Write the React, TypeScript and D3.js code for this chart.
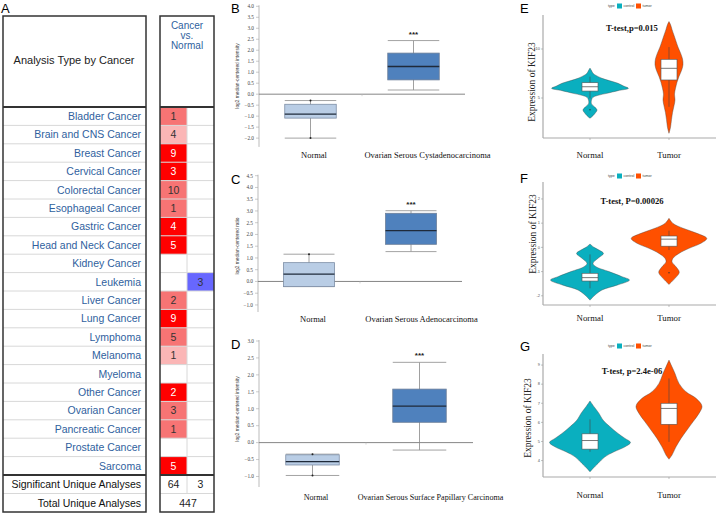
import React from 'react';
import * as d3 from 'd3';

// ---------------- Panel A data ----------------
const cancerTypes = [
  'Bladder Cancer', 'Brain and CNS Cancer', 'Breast Cancer', 'Cervical Cancer',
  'Colorectal Cancer', 'Esophageal Cancer', 'Gastric Cancer', 'Head and Neck Cancer',
  'Kidney Cancer', 'Leukemia', 'Liver Cancer', 'Lung Cancer', 'Lymphoma', 'Melanoma',
  'Myeloma', 'Other Cancer', 'Ovarian Cancer', 'Pancreatic Cancer', 'Prostate Cancer', 'Sarcoma',
];
const upCounts = [1, 4, 9, 3, 10, 1, 4, 5, null, null, 2, 9, 5, 1, null, 2, 3, 1, null, 5];
// shade level of the "up" cell: 1 light, 2 medium, 3 strong
const upShade = [2, 1, 3, 3, 2, 2, 3, 3, 0, 0, 2, 3, 2, 1, 0, 3, 2, 2, 0, 3];
const downCounts = [null, null, null, null, null, null, null, null, null, 3, null, null, null, null, null, null, null, null, null, null];
const headerLines = ['Cancer', 'vs.', 'Normal'];
const summaryLabels = ['Significant Unique Analyses', 'Total Unique Analyses'];
const significantCounts = [64, 3];
const totalAnalyses = 447;

// ---------------- Panels B-D data (min, q1, median, q3, max) ----------------
const boxGroups = ['Normal', 'Tumor'];
const bLabels = ['Normal', 'Ovarian Serous Cystadenocarcinoma'];
const bNormal = [-2.0, -1.09, -0.91, -0.46, -0.29];
const bTumor = [0.19, 0.65, 1.26, 1.87, 2.44];
const bTicks = [-2.0, -1.5, -1.0, -0.5, 0.0, 0.5, 1.0, 1.5, 2.0, 2.5, 3.0, 3.5, 4.0];

const cLabels = ['Normal', 'Ovarian Serous Adenocarcinoma'];
const cNormal = [-0.22, -0.22, 0.31, 0.8, 1.16];
const cTumor = [1.27, 1.58, 2.16, 2.9, 3.01];
const cTicks = [-1.0, -0.5, 0.0, 0.5, 1.0, 1.5, 2.0, 2.5, 3.0, 3.5, 4.0, 4.5];

const dLabels = ['Normal', 'Ovarian Serous Surface Papillary Carcinoma'];
const dNormal = [-0.97, -0.66, -0.56, -0.36, -0.34];
const dTumor = [-0.22, 0.6, 1.08, 1.58, 2.37];
const dTicks = [-1.0, -0.5, 0.0, 0.5, 1.0, 1.5, 2.0, 2.5, 3.0];

// ---------------- Panels E-G data ----------------
const violinGroups = ['Normal', 'Tumor'];
const legendItems = ['control', 'tumor'];
// [value, half-width density]
const eNormalDensity: [number, number][] = [
  [2.93, 0], [3.2, 3], [3.5, 5.5], [3.78, 7], [4.1, 4.5], [4.4, 1.5], [4.6, 1.2], [4.8, 1.5],
  [5.07, 3], [5.3, 9], [5.48, 17], [5.75, 28], [5.99, 38.5], [6.2, 34], [6.5, 28], [6.75, 20],
  [7.01, 12], [7.3, 6], [7.52, 3], [7.8, 1.5], [8.05, 0],
];
const eTumorDensity: [number, number][] = [
  [1.4, 0], [2.0, 1.5], [2.8, 2.5], [3.5, 3.5], [4.2, 5], [4.8, 6], [5.4, 5.5], [6.0, 6.5],
  [6.6, 8], [7.2, 10], [7.8, 12.5], [8.4, 14], [9.0, 13.5], [9.6, 11.5], [10.2, 9], [10.8, 7],
  [11.4, 5], [12.0, 3], [12.5, 1.5], [12.8, 0],
];
const eNormalBox = [4.96, 5.71, 6.15, 6.56, 7.18];
const eTumorBox = [4.1, 6.84, 8.03, 8.95, 10.2];
const eOutliers: [string, number][] = [['Normal', 3.8]];
const eTicks = [5, 10];

const fNormalDensity: [number, number][] = [
  [-2.18, 0], [-1.97, 5], [-1.76, 12], [-1.56, 27], [-1.35, 39.5], [-1.21, 32], [-1.0, 19],
  [-0.8, 6], [-0.66, 3], [-0.45, 8], [-0.25, 13.5], [-0.11, 9], [0.0, 4], [0.14, 0],
];
const fTumorDensity: [number, number][] = [
  [-1.53, 0], [-1.28, 6], [-1.03, 10.3], [-0.8, 7], [-0.6, 3], [-0.45, 4], [-0.25, 10],
  [-0.04, 20], [0.17, 32], [0.37, 37.8], [0.58, 28], [0.79, 14], [0.99, 4], [1.2, 0],
];
const fNormalBox = [-1.69, -1.39, -1.25, -1.07, -0.29];
const fTumorBox = [-0.11, 0.05, 0.34, 0.47, 0.69];
const fOutliers: [string, number][] = [['Tumor', -1.05]];
const fTicks = [-2, -1, 0, 1, 2];

const gNormalDensity: [number, number][] = [
  [3.41, 0], [3.59, 3], [3.85, 8], [4.2, 15], [4.46, 24], [4.72, 35], [4.95, 40.5], [5.16, 35],
  [5.42, 28], [5.77, 20], [6.12, 13], [6.47, 9], [6.82, 4], [7.12, 0],
];
const gTumorDensity: [number, number][] = [
  [4.07, 0], [4.29, 3], [4.72, 7], [5.16, 12], [5.6, 18], [6.03, 24], [6.47, 30], [6.85, 33],
  [7.26, 27], [7.6, 17], [8.04, 10], [8.56, 6], [8.91, 3], [9.26, 0],
];
const gNormalBox = [4.46, 4.6, 5.05, 5.4, 6.16];
const gTumorBox = [4.98, 5.9, 6.73, 7.0, 8.3];
const gOutliers: [string, number][] = [];
const gTicks = [4, 5, 6, 7, 8, 9];

// ---------------- styles ----------------
const SANS = "'Liberation Sans', Arial, Helvetica, sans-serif";
const SERIF = "'Liberation Serif', 'Times New Roman', serif";
const LINK = '#2f5f9e';
const SHADES = ['#ffffff', '#fbb6b6', '#f77474', '#ff0000'];
const DOWN_BLUE = '#6767ff';
const TEAL = '#0aafbf';
const ORANGE = '#ff5000';

function PanelA() {
  const rows = d3.scaleBand<string>().domain(cancerTypes).range([107, 107 + 18.4 * 20]);
  const rh = rows.bandwidth();
  const sumTop = 107 + 18.4 * 20;
  const sumRows = d3.scaleBand<string>().domain(summaryLabels).range([sumTop, sumTop + 37]);
  const lx0 = 3, lx1 = 146, rx0 = 160, rmid = 187, rx1 = 214;
  return (
    <g fontFamily={SANS}>
      <text x={1} y={13} fontSize={13}>A</text>
      <text x={74} y={64} fontSize={11} textAnchor="middle" fill="#222">Analysis Type by Cancer</text>
      <g fill={LINK} fontSize={10} textAnchor="middle">
        {headerLines.map((h, i) => (
          <text key={h} x={187} y={28.5 + i * 10}>{h}</text>
        ))}
      </g>
      {cancerTypes.map((c, i) => {
        const y0 = rows(c)!;
        const up = upCounts[i];
        const dn = downCounts[i];
        return (
          <g key={c}>
            {up !== null && (
              <rect x={rx0} y={y0} width={rmid - rx0} height={rh} fill={SHADES[upShade[i]]} />
            )}
            {dn !== null && <rect x={rmid} y={y0} width={rx1 - rmid} height={rh} fill={DOWN_BLUE} />}
            <text x={141} y={y0 + 13} fontSize={10.5} textAnchor="end" fill={LINK}>{c}</text>
            {up !== null && (
              <text x={(rx0 + rmid) / 2} y={y0 + 13} fontSize={10.5} textAnchor="middle"
                fill={upShade[i] === 3 ? '#fff' : '#333'}>{up}</text>
            )}
            {dn !== null && (
              <text x={(rmid + rx1) / 2} y={y0 + 13} fontSize={10.5} textAnchor="middle" fill="#333">{dn}</text>
            )}
            {i > 0 && (
              <g stroke="#d8d8d8" strokeWidth={1}>
                <line x1={lx0} x2={lx1} y1={y0} y2={y0} />
                <line x1={rx0} x2={rx1} y1={y0} y2={y0} />
              </g>
            )}
          </g>
        );
      })}
      <line x1={rmid} x2={rmid} y1={107} y2={sumTop + 18.5} stroke="#d8d8d8" />
      {summaryLabels.map(s => (
        <text key={s} x={141} y={sumRows(s)! + 13} fontSize={10.5} textAnchor="end" fill="#111">{s}</text>
      ))}
      <text x={(rx0 + rmid) / 2} y={sumRows(summaryLabels[0])! + 13} fontSize={10.5} textAnchor="middle" fill="#222">{significantCounts[0]}</text>
      <text x={(rmid + rx1) / 2} y={sumRows(summaryLabels[0])! + 13} fontSize={10.5} textAnchor="middle" fill="#222">{significantCounts[1]}</text>
      <text x={(rx0 + rx1) / 2 + 1} y={sumRows(summaryLabels[1])! + 13} fontSize={10.5} textAnchor="middle" fill="#222">{totalAnalyses}</text>
      <g stroke="#d8d8d8">
        <line x1={lx0} x2={lx1} y1={sumRows(summaryLabels[1])!} y2={sumRows(summaryLabels[1])!} />
        <line x1={rx0} x2={rx1} y1={sumRows(summaryLabels[1])!} y2={sumRows(summaryLabels[1])!} />
      </g>
      <g fill="none" stroke="#333">
        <rect x={lx0} y={16} width={lx1 - lx0} height={496} strokeWidth={1.5} />
        <rect x={rx0} y={16} width={rx1 - rx0} height={496} strokeWidth={1.5} />
        <line x1={lx0} x2={lx1} y1={107} y2={107} strokeWidth={2} />
        <line x1={rx0} x2={rx1} y1={107} y2={107} strokeWidth={2} />
        <line x1={lx0} x2={lx1} y1={sumTop} y2={sumTop} strokeWidth={2} />
        <line x1={rx0} x2={rx1} y1={sumTop} y2={sumTop} strokeWidth={2} />
      </g>
    </g>
  );
}

type BoxProps = {
  letter: string; letterY: number;
  yDomain: [number, number]; yRange: [number, number]; ticks: number[];
  axisX: number; lineEnd: number;
  normal: number[]; tumor: number[]; labels: string[]; labelY: number; labelDx: number[];
  labelSize: number; yTitle: string; titleY: number;
};

function BoxPanel(p: BoxProps) {
  const y = d3.scaleLinear().domain(p.yDomain).range(p.yRange);
  const x = d3.scaleBand<string>().domain(boxGroups).range([p.axisX, p.lineEnd]).paddingInner(0.5).paddingOuter(0.25);
  const bw = x.bandwidth();
  const fmt = d3.format('.1f');
  const fills = ['#b9cde5', '#4f81bd'];
  const strokes = ['#7d8ea6', '#6d7f99'];
  const data = [p.normal, p.tumor];
  const mid = (x(boxGroups[0])! + bw + x(boxGroups[1])!) / 2;
  return (
    <g>
      <text x={231} y={p.letterY} fontSize={13} fontFamily={SANS}>{p.letter}</text>
      <line x1={p.axisX} x2={p.axisX} y1={p.yRange[1] - 1} y2={p.yRange[0]} stroke="#aaa" strokeWidth={0.8} />
      {p.ticks.map(t => (
        <g key={t}>
          <line x1={p.axisX - 3} x2={p.axisX} y1={y(t)} y2={y(t)} stroke="#aaa" strokeWidth={0.6} />
          <text x={p.axisX - 5} y={y(t) + 1.8} fontSize={5.3} textAnchor="end" fill="#444" fontFamily={SERIF}>{fmt(t)}</text>
        </g>
      ))}
      <text transform={`translate(238.5,${p.titleY}) rotate(-90)`} fontSize={4.8} textAnchor="middle" fill="#444" fontFamily={SANS}>{p.yTitle}</text>
      <line x1={p.axisX} x2={p.lineEnd} y1={y(0)} y2={y(0)} stroke="#777" strokeWidth={0.9} />
      <line x1={mid} x2={mid} y1={y(0)} y2={y(0) + 2} stroke="#bbb" strokeWidth={0.6} />
      {data.map((d, i) => {
        const x0 = x(boxGroups[i])!;
        const cx = x0 + bw / 2;
        const [mn, q1, md, q3, mx] = d;
        return (
          <g key={i}>
            <line x1={cx} x2={cx} y1={y(mx)} y2={y(mn)} stroke="#888" strokeWidth={0.8} />
            <line x1={x0} x2={x0 + bw} y1={y(mx)} y2={y(mx)} stroke="#999" strokeWidth={0.9} />
            <line x1={x0} x2={x0 + bw} y1={y(mn)} y2={y(mn)} stroke="#999" strokeWidth={0.9} />
            <rect x={x0} y={y(q3)} width={bw} height={y(q1) - y(q3)} fill={fills[i]} stroke={strokes[i]} strokeWidth={0.8} />
            <line x1={x0} x2={x0 + bw} y1={y(md)} y2={y(md)} stroke="#1f2a3a" strokeWidth={1.3} />
            {i === 0 && <circle cx={cx} cy={y(mx)} r={1} fill="#222" />}
            {i === 0 && mn !== q1 && <circle cx={cx} cy={y(mn)} r={1} fill="#222" />}
            {i === 1 && (
              <text x={cx} y={y(mx) - 4} fontSize={8} fontWeight="bold" textAnchor="middle" fill="#222" fontFamily={SANS}>***</text>
            )}
            <text x={cx + p.labelDx[i]} y={p.labelY} fontSize={p.labelSize} textAnchor="middle" fill="#111" fontFamily={SERIF}>{p.labels[i]}</text>
          </g>
        );
      })}
    </g>
  );
}

type ViolinProps = {
  letter: string; letterY: number; legendY: number;
  yDomain: [number, number]; yRange: [number, number]; ticks: number[];
  densities: [number, number][][]; boxes: number[][]; outliers: [string, number][];
  pText: string; pY: number; labelY: number; titleX: number; titleY: number;
};

function ViolinPanel(p: ViolinProps) {
  const y = d3.scaleLinear().domain(p.yDomain).range(p.yRange);
  const x = d3.scalePoint<string>().domain(violinGroups).range([543, 716]).padding(0.595);
  const w = d3.scaleLinear().domain([0, 40]).range([0, 40]);
  const colors = [TEAL, ORANGE];
  const bh = 8;
  return (
    <g>
      <text x={520} y={p.letterY} fontSize={13} fontFamily={SANS}>{p.letter}</text>
      <g fontFamily={SANS} fontSize={3.6} fill="#444">
        <text x={608} y={p.legendY + 1.3}>type</text>
        {legendItems.map((l, i) => (
          <g key={l}>
            <rect x={617 + i * 19} y={p.legendY - 2.5} width={5} height={5} fill={colors[i]} />
            <text x={623.5 + i * 19} y={p.legendY + 1.3}>{l}</text>
          </g>
        ))}
      </g>
      <line x1={543} x2={543} y1={p.yRange[1]} y2={p.yRange[0]} stroke="#aaa" strokeWidth={1.2} />
      <line x1={543} x2={716} y1={p.yRange[0]} y2={p.yRange[0]} stroke="#aaa" strokeWidth={1.2} />
      {p.ticks.map(t => (
        <g key={t}>
          <line x1={541} x2={543} y1={y(t)} y2={y(t)} stroke="#999" strokeWidth={0.6} />
          <text x={540} y={y(t) + 1.3} fontSize={4} textAnchor="end" fill="#555" fontFamily={SANS}>{t}</text>
        </g>
      ))}
      {violinGroups.map(g => (
        <line key={g} x1={x(g)} x2={x(g)} y1={p.yRange[0]} y2={p.yRange[0] + 2} stroke="#999" strokeWidth={0.6} />
      ))}
      <text transform={`translate(${p.titleX},${p.titleY}) rotate(-90)`} fontSize={9.5} textAnchor="middle" fill="#222" fontFamily={SERIF}>Expression of KIF23</text>
      <text x={632} y={p.pY} fontSize={8.6} fontWeight="bold" textAnchor="middle" fill="#111" fontFamily={SERIF}>{p.pText}</text>
      {violinGroups.map((g, i) => {
        const cx = x(g)!;
        const area = d3.area<[number, number]>()
          .y(d => y(d[0]))
          .x0(d => cx - w(d[1]))
          .x1(d => cx + w(d[1]))
          .curve(d3.curveCatmullRom);
        const [mn, q1, md, q3, mx] = p.boxes[i];
        return (
          <g key={g}>
            <path d={area(p.densities[i])!} fill={colors[i]} stroke="#444" strokeWidth={0.4} />
            <line x1={cx} x2={cx} y1={y(mx)} y2={y(mn)} stroke="#444" strokeWidth={0.6} />
            <rect x={cx - bh} y={y(q3)} width={bh * 2} height={y(q1) - y(q3)} fill="#fff" stroke="#555" strokeWidth={0.6} />
            <line x1={cx - bh} x2={cx + bh} y1={y(md)} y2={y(md)} stroke="#555" strokeWidth={0.8} />
            <text x={cx} y={p.labelY} fontSize={8.8} textAnchor="middle" fill="#111" fontFamily={SERIF}>{g}</text>
          </g>
        );
      })}
      {p.outliers.map(([g, v], i) => (
        <circle key={i} cx={x(g)} cy={y(v)} r={0.7} fill="#333" />
      ))}
    </g>
  );
}

export default function App() {
  return (
    <svg width={720} height={514} viewBox="0 0 720 514"
      style={{ position: 'absolute', left: 0, top: 0, background: '#fff' }}>
      <rect x={0} y={0} width={720} height={514} fill="#fff" />
      <PanelA />
      <BoxPanel letter="B" letterY={12.5} yDomain={[-2.4, 4.0]} yRange={[146.9, 6.3]} ticks={bTicks}
        axisX={259} lineEnd={465} normal={bNormal} tumor={bTumor} labels={bLabels} labelY={157.5}
        labelDx={[3.5, 14]} labelSize={8.5} yTitle="log2 median-centered intensity" titleY={76} />
      <BoxPanel letter="C" letterY={184} yDomain={[-1.3, 4.5]} yRange={[312, 175.7]} ticks={cTicks}
        axisX={258} lineEnd={462} normal={cNormal} tumor={cTumor} labels={cLabels} labelY={322}
        labelDx={[4, 10.5]} labelSize={8.5} yTitle="log2 median-centered ratio" titleY={246} />
      <BoxPanel letter="D" letterY={349} yDomain={[-1.31, 3.0]} yRange={[487, 341]} ticks={dTicks}
        axisX={259} lineEnd={473} normal={dNormal} tumor={dTumor} labels={dLabels} labelY={500}
        labelDx={[3.5, 11]} labelSize={8.1} yTitle="log2 median-centered intensity" titleY={409} />
      <ViolinPanel letter="E" letterY={13} legendY={6} yDomain={[0.92, 13.47]} yRange={[138, 15]}
        ticks={eTicks} densities={[eNormalDensity, eTumorDensity]} boxes={[eNormalBox, eTumorBox]}
        outliers={eOutliers} pText="T-test,p=0.015" pY={31} labelY={158} titleX={535} titleY={82} />
      <ViolinPanel letter="F" letterY={183} legendY={176} yDomain={[-2.38, 2.7]} yRange={[305, 182]}
        ticks={fTicks} densities={[fNormalDensity, fTumorDensity]} boxes={[fNormalBox, fTumorBox]}
        outliers={fOutliers} pText="T-test, P=0.00026" pY={204} labelY={321} titleX={536} titleY={234} />
      <ViolinPanel letter="G" letterY={351} legendY={346} yDomain={[3.14, 9.58]} yRange={[477, 354]}
        ticks={gTicks} densities={[gNormalDensity, gTumorDensity]} boxes={[gNormalBox, gTumorBox]}
        outliers={gOutliers} pText="T-test, p=2.4e-06" pY={374} labelY={498} titleX={531} titleY={418} />
    </svg>
  );
}
